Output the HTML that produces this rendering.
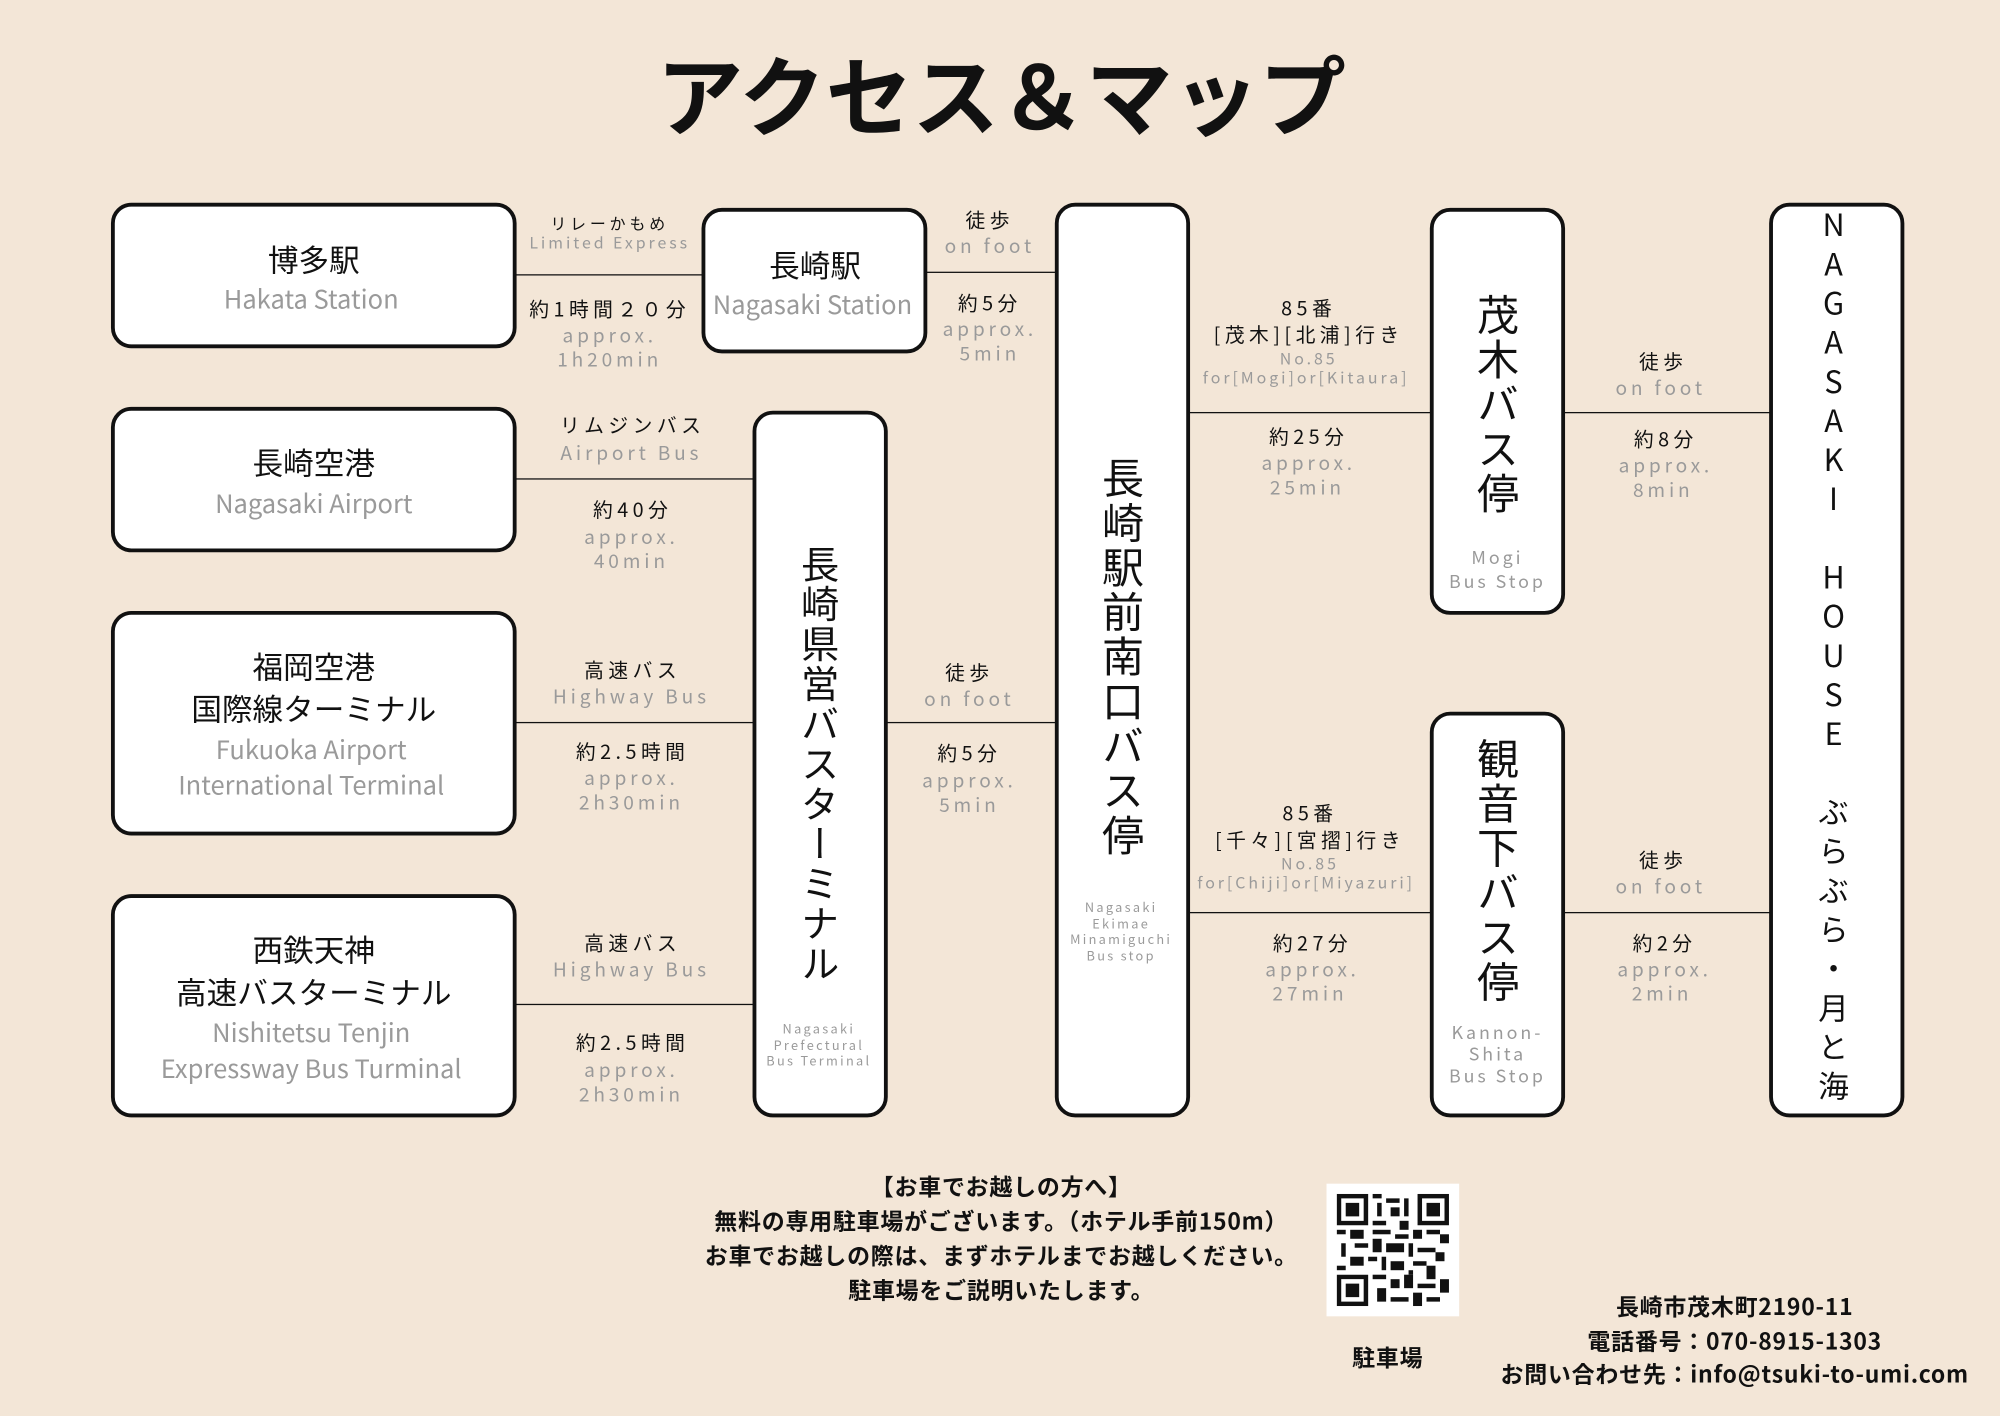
<!DOCTYPE html>
<html><head><meta charset="utf-8"><style>
html,body{margin:0;padding:0;background:#f3e6d7;}
body{width:2000px;height:1414px;overflow:hidden;position:relative;font-family:"Liberation Sans","Noto Sans CJK JP",sans-serif;}
#w{position:absolute;left:0;top:0;width:1568px;height:1110px;transform:scale(1.27551);transform-origin:0 0;}
.b{position:absolute;background:#fff;border:3px solid #111;border-radius:16px;box-sizing:border-box;}
.l{position:absolute;height:0;border-top:1.6px solid #111;}
.t{position:absolute;transform:translate(-50%,-50%);white-space:nowrap;text-align:center;color:#111;line-height:1;font-family:"Noto Sans CJK JP",sans-serif;}
.g{color:#9a9a9a;}
.j{font-size:15.5px;letter-spacing:3.5px;}
.e{font-size:15px;letter-spacing:3px;color:#9a9a9a;}
.s{font-size:12.5px;letter-spacing:3px;}
.se{font-size:12.5px;letter-spacing:2.3px;color:#9a9a9a;}
.bj{font-size:24px;}
.be{font-size:20px;color:#9a9a9a;}
.v{position:absolute;writing-mode:vertical-rl;text-orientation:upright;transform:translateX(-50%);font-family:"Noto Sans CJK JP",sans-serif;color:#111;line-height:1;white-space:nowrap;}
.tiny{font-size:10px;letter-spacing:1.8px;color:#9a9a9a;line-height:12.5px;}
.bold{font-weight:bold;font-size:18px;letter-spacing:0.6px;}
</style></head><body><div id="w">
<div class="t" style="left:785px;top:72px;font-size:68px;font-weight:bold;">アクセス＆マップ</div>

<div class="l" style="left:404px;top:215px;width:148px"></div>
<div class="l" style="left:726px;top:213px;width:103px"></div>
<div class="l" style="left:404px;top:375px;width:188px"></div>
<div class="l" style="left:404px;top:566px;width:188px"></div>
<div class="l" style="left:404px;top:787px;width:188px"></div>
<div class="l" style="left:695px;top:566px;width:134px"></div>
<div class="l" style="left:932px;top:323px;width:191px"></div>
<div class="l" style="left:1226px;top:323px;width:163px"></div>
<div class="l" style="left:932px;top:715px;width:191px"></div>
<div class="l" style="left:1226px;top:715px;width:163px"></div>

<div class="b" style="left:87px;top:159px;width:318px;height:114px"></div>
<div class="b" style="left:550px;top:163px;width:177px;height:114px"></div>
<div class="b" style="left:827px;top:159px;width:106px;height:717px"></div>
<div class="b" style="left:1121px;top:163px;width:106px;height:319px"></div>
<div class="b" style="left:1387px;top:159px;width:106px;height:717px"></div>
<div class="b" style="left:87px;top:319px;width:318px;height:114px"></div>
<div class="b" style="left:590px;top:322px;width:106px;height:554px"></div>
<div class="b" style="left:87px;top:479px;width:318px;height:176px"></div>
<div class="b" style="left:87px;top:701px;width:318px;height:175px"></div>
<div class="b" style="left:1121px;top:558px;width:106px;height:318px"></div>

<div class="t bj" style="left:246px;top:203px">博多駅</div>
<div class="t be" style="left:244px;top:234px">Hakata Station</div>
<div class="t bj" style="left:639px;top:207px">長崎駅</div>
<div class="t be" style="left:637px;top:238px">Nagasaki Station</div>
<div class="t bj" style="left:246px;top:362px">長崎空港</div>
<div class="t be" style="left:246px;top:394px">Nagasaki Airport</div>
<div class="t bj" style="left:246px;top:522px">福岡空港</div>
<div class="t bj" style="left:246px;top:555px">国際線ターミナル</div>
<div class="t be" style="left:244px;top:587px">Fukuoka Airport</div>
<div class="t be" style="left:244px;top:615px">International Terminal</div>
<div class="t bj" style="left:246px;top:744px">西鉄天神</div>
<div class="t bj" style="left:246px;top:777px">高速バスターミナル</div>
<div class="t be" style="left:244px;top:809px">Nishitetsu Tenjin</div>
<div class="t be" style="left:244px;top:837px">Expressway Bus Turminal</div>

<div class="v" style="left:880px;top:358px;font-size:33px;letter-spacing:2px">長崎駅前南口バス停</div>
<div class="t tiny" style="left:879px;top:730px">Nagasaki<br>Ekimae<br>Minamiguchi<br>Bus stop</div>
<div class="v" style="left:643px;top:427px;font-size:30px;letter-spacing:1.3px">長崎県営バスターミナル</div>
<div class="t tiny" style="left:642px;top:819px">Nagasaki<br>Prefectural<br>Bus Terminal</div>
<div class="v" style="left:1174px;top:230px;font-size:33px;letter-spacing:2px">茂木バス停</div>
<div class="t" style="left:1174px;top:447px;font-size:14px;letter-spacing:2.3px;color:#9a9a9a;line-height:19px">Mogi<br>Bus Stop</div>
<div class="v" style="left:1174px;top:578px;font-size:33px;letter-spacing:2px">観音下バス停</div>
<div class="t" style="left:1174px;top:827px;font-size:14px;letter-spacing:2.3px;color:#9a9a9a;line-height:17px">Kannon-<br>Shita<br>Bus Stop</div>
<div class="v" style="left:1437px;top:164px;font-size:24px;letter-spacing:6.7px">NAGASAKI　HOUSE　ぶらぶら・月と海</div>

<div class="t s" style="left:478px;top:175px">リレーかもめ</div>
<div class="t se" style="left:478px;top:190px">Limited Express</div>
<div class="t j" style="left:478px;top:243px">約1時間２０分</div>
<div class="t e" style="left:478px;top:263px">approx.</div>
<div class="t e" style="left:478px;top:282px">1h20min</div>

<div class="t j" style="left:776px;top:173px">徒歩</div>
<div class="t e" style="left:776px;top:193px">on foot</div>
<div class="t j" style="left:776px;top:238px">約5分</div>
<div class="t e" style="left:776px;top:258px">approx.</div>
<div class="t e" style="left:776px;top:277px">5min</div>

<div class="t j" style="left:496px;top:334px">リムジンバス</div>
<div class="t e" style="left:495px;top:355px">Airport Bus</div>
<div class="t j" style="left:496px;top:400px">約40分</div>
<div class="t e" style="left:495px;top:421px">approx.</div>
<div class="t e" style="left:495px;top:440px">40min</div>

<div class="t j" style="left:496px;top:526px">高速バス</div>
<div class="t e" style="left:495px;top:546px">Highway Bus</div>
<div class="t j" style="left:496px;top:590px">約2.5時間</div>
<div class="t e" style="left:495px;top:610px">approx.</div>
<div class="t e" style="left:495px;top:629px">2h30min</div>

<div class="t j" style="left:496px;top:740px">高速バス</div>
<div class="t e" style="left:495px;top:760px">Highway Bus</div>
<div class="t j" style="left:496px;top:818px">約2.5時間</div>
<div class="t e" style="left:495px;top:839px">approx.</div>
<div class="t e" style="left:495px;top:858px">2h30min</div>

<div class="t j" style="left:760px;top:528px">徒歩</div>
<div class="t e" style="left:760px;top:548px">on foot</div>
<div class="t j" style="left:760px;top:591px">約5分</div>
<div class="t e" style="left:760px;top:612px">approx.</div>
<div class="t e" style="left:760px;top:631px">5min</div>

<div class="t j" style="left:1026px;top:242px">85番</div>
<div class="t j" style="left:1026px;top:263px">[茂木][北浦]行き</div>
<div class="t se" style="left:1026px;top:281px">No.85</div>
<div class="t se" style="left:1024px;top:296px">for[Mogi]or[Kitaura]</div>
<div class="t j" style="left:1026px;top:343px">約25分</div>
<div class="t e" style="left:1026px;top:363px">approx.</div>
<div class="t e" style="left:1025px;top:382px">25min</div>

<div class="t j" style="left:1304px;top:284px">徒歩</div>
<div class="t e" style="left:1302px;top:304px">on foot</div>
<div class="t j" style="left:1306px;top:345px">約8分</div>
<div class="t e" style="left:1306px;top:365px">approx.</div>
<div class="t e" style="left:1304px;top:384px">8min</div>

<div class="t j" style="left:1027px;top:638px">85番</div>
<div class="t j" style="left:1027px;top:659px">[千々][宮摺]行き</div>
<div class="t se" style="left:1027px;top:677px">No.85</div>
<div class="t se" style="left:1024px;top:692px">for[Chiji]or[Miyazuri]</div>
<div class="t j" style="left:1029px;top:740px">約27分</div>
<div class="t e" style="left:1029px;top:760px">approx.</div>
<div class="t e" style="left:1027px;top:779px">27min</div>

<div class="t j" style="left:1304px;top:675px">徒歩</div>
<div class="t e" style="left:1302px;top:695px">on foot</div>
<div class="t j" style="left:1305px;top:740px">約2分</div>
<div class="t e" style="left:1305px;top:760px">approx.</div>
<div class="t e" style="left:1303px;top:779px">2min</div>

<div class="t bold" style="left:785px;top:930px">【お車でお越しの方へ】</div>
<div class="t bold" style="left:785px;top:957px">無料の専用駐車場がございます。（ホテル手前150m）</div>
<div class="t bold" style="left:785px;top:984px">お車でお越しの際は、まずホテルまでお越しください。</div>
<div class="t bold" style="left:785px;top:1011px">駐車場をご説明いたします。</div>

<div style="position:absolute;left:1040px;top:928px;width:104px;height:104px;background:#fff"></div>
<svg style="position:absolute;left:1048px;top:936px" width="88" height="88" viewBox="0 0 25 25">
<g fill="#111">
<path d="M0 0h7v7h-7zM1 1v5h5v-5zM2 2h3v3h-3z" fill-rule="evenodd"/>
<path d="M18 0h7v7h-7zM19 1v5h5v-5zM20 2h3v3h-3z" fill-rule="evenodd"/>
<path d="M0 18h7v7h-7zM1 19v5h5v-5zM2 20h3v3h-3z" fill-rule="evenodd"/>
<rect x="8" y="0" width="2" height="1"/><rect x="11" y="1" width="3" height="1"/><rect x="9" y="2" width="1" height="3"/><rect x="12" y="3" width="2" height="2"/><rect x="15" y="1" width="1" height="4"/><rect x="8" y="6" width="3" height="1"/><rect x="14" y="6" width="2" height="2"/>
<rect x="0" y="8" width="2" height="1"/><rect x="3" y="8" width="3" height="2"/><rect x="8" y="8" width="4" height="1"/><rect x="13" y="9" width="3" height="1"/><rect x="17" y="8" width="2" height="2"/><rect x="20" y="8" width="3" height="1"/><rect x="23" y="9" width="2" height="2"/>
<rect x="1" y="11" width="1" height="3"/><rect x="4" y="11" width="3" height="1"/><rect x="8" y="10" width="2" height="3"/><rect x="11" y="11" width="4" height="2"/><rect x="16" y="11" width="1" height="3"/><rect x="18" y="12" width="4" height="1"/><rect x="22" y="13" width="2" height="2"/>
<rect x="3" y="14" width="3" height="2"/><rect x="7" y="14" width="2" height="1"/><rect x="10" y="14" width="1" height="3"/><rect x="12" y="15" width="3" height="2"/><rect x="17" y="15" width="3" height="1"/><rect x="20" y="16" width="2" height="3"/><rect x="0" y="16" width="2" height="1"/>
<rect x="8" y="18" width="3" height="1"/><rect x="12" y="19" width="2" height="2"/><rect x="15" y="18" width="2" height="3"/><rect x="18" y="20" width="4" height="1"/><rect x="23" y="19" width="2" height="3"/><rect x="9" y="21" width="2" height="3"/><rect x="12" y="23" width="4" height="1"/><rect x="17" y="22" width="2" height="3"/><rect x="20" y="23" width="3" height="1"/><rect x="16" y="17" width="1" height="1"/>
</g></svg>
<div class="t bold" style="left:1088px;top:1064px">駐車場</div>

<div class="t bold" style="left:1360px;top:1024px">長崎市茂木町2190-11</div>
<div class="t bold" style="left:1360px;top:1051px">電話番号：070-8915-1303</div>
<div class="t bold" style="left:1360px;top:1077px">お問い合わせ先：info@tsuki-to-umi.com</div>
</div></body></html>
